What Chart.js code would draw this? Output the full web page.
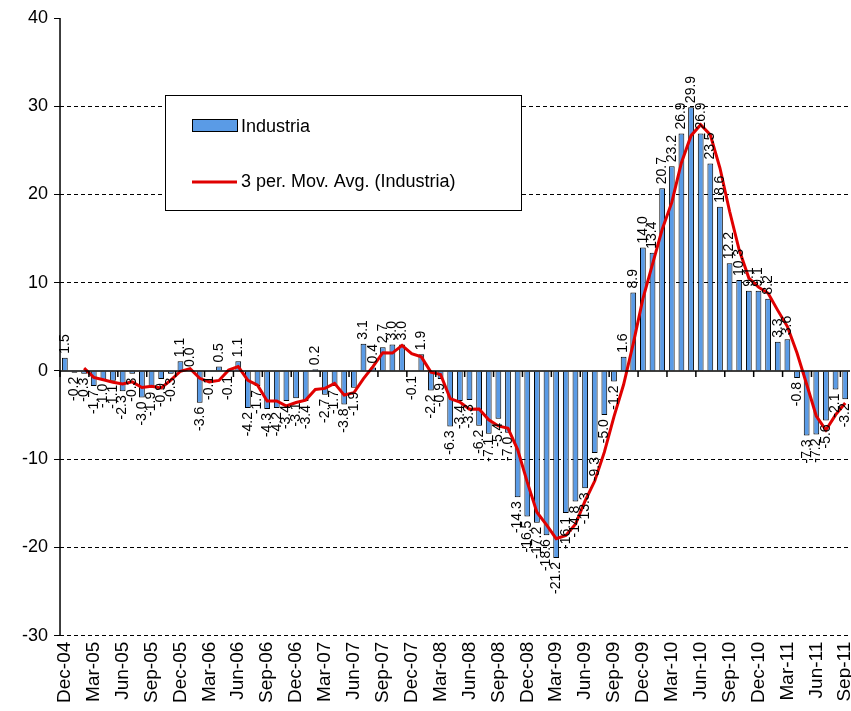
<!DOCTYPE html>
<html>
<head>
<meta charset="utf-8">
<script src="https://cdn.jsdelivr.net/npm/chart.js@4/dist/chart.umd.min.js"></script>
<style>
  body { margin: 0; overflow: hidden; background: #fff; }
  #wrap { width: 874px; height: 711px; }
</style>
</head>
<body>
<div id="wrap"><canvas id="myChart"></canvas></div>
<script>
const months = ["Jan","Feb","Mar","Apr","May","Jun","Jul","Aug","Sep","Oct","Nov","Dec"];

// Dec-04 .. Sep-11
const industria = [
  1.5, -0.2, -0.3, -1.7, -1.0, -1.1, -2.3, -0.3, -3.0, -1.9, -0.9, -0.3,
  1.1, 0.0, -3.6, -0.1, 0.5, -0.1, 1.1, -4.2, -1.7, -4.3, -4.2, -3.4,
  -3.1, -3.4, 0.2, -2.7, -1.7, -3.8, -1.9, 3.1, 0.4, 2.7, 3.0, 3.0,
  -0.1, 1.9, -2.2, -0.9, -6.3, -3.4, -3.3, -6.2, -7.1, -5.4, -7.0, -14.3,
  -16.5, -17.2, -18.6, -21.2, -16.1, -14.8, -13.3, -9.3, -5.0, -1.2, 1.6, 8.9,
  14.0, 13.4, 20.7, 23.2, 26.9, 29.9, 26.9, 23.5, 18.6, 12.2, 10.3, 9.1,
  9.1, 8.2, 3.3, 3.6, -0.8, -7.3, -7.2, -5.6, -2.1, -3.2
];

const labels = industria.map((v, i) => {
  const m = (11 + i) % 12;
  const y = 4 + Math.floor((11 + i) / 12);
  return months[m] + "-" + String(y).padStart(2, "0");
});

// 3 period moving average
const movAvg = industria.map((v, i) =>
  i < 2 ? null : +((industria[i] + industria[i - 1] + industria[i - 2]) / 3).toFixed(2)
);

const extras = {
  id: "extras",
  afterDatasetsDraw(chart) {
    const ctx = chart.ctx;
    const x = chart.scales.x;
    const y = chart.scales.y;
    const area = chart.chartArea;
    const y0 = y.getPixelForValue(0);
    const step = x.getPixelForValue(1) - x.getPixelForValue(0);
    ctx.save();
    ctx.strokeStyle = "#000";
    ctx.lineWidth = 1.5;
    // left axis
    ctx.beginPath();
    ctx.moveTo(area.left, area.top);
    ctx.lineTo(area.left, area.bottom);
    ctx.stroke();
    // zero axis with ticks
    ctx.beginPath();
    ctx.moveTo(area.left, y0);
    ctx.lineTo(area.right, y0);
    ctx.stroke();
    for (let i = 0; i <= industria.length; i += 3) {
      const px = x.getPixelForValue(i) - step / 2;
      ctx.beginPath();
      ctx.moveTo(px, y0);
      ctx.lineTo(px, y0 + 6);
      ctx.stroke();
    }
    // value labels
    ctx.fillStyle = "#000";
    ctx.font = "14px Arial, 'Liberation Sans'";
    ctx.textBaseline = "middle";
    industria.forEach((v, i) => {
      const px = x.getPixelForValue(i);
      const py = y.getPixelForValue(v);
      ctx.save();
      ctx.translate(px, v >= 0 ? py - 4 : py + 4);
      ctx.rotate(-Math.PI / 2);
      ctx.textAlign = v >= 0 ? "left" : "right";
      ctx.fillText(v.toFixed(1), 0, 0);
      ctx.restore();
    });
    // legend box
    ctx.fillStyle = "#fff";
    ctx.fillRect(165, 95, 356, 115);
    ctx.strokeStyle = "#000";
    ctx.lineWidth = 1;
    ctx.strokeRect(165.5, 95.5, 356, 115);
    ctx.fillStyle = "#5a9be6";
    ctx.fillRect(192, 119, 45, 12);
    ctx.strokeRect(192.5, 119.5, 45, 12);
    ctx.strokeStyle = "#e00000";
    ctx.lineWidth = 3;
    ctx.beginPath();
    ctx.moveTo(192, 182);
    ctx.lineTo(237, 182);
    ctx.stroke();
    ctx.fillStyle = "#000";
    ctx.font = "18px Arial, 'Liberation Sans'";
    ctx.textAlign = "left";
    ctx.fillText("Industria", 241, 127);
    ctx.fillText("3 per. Mov. Avg. (Industria)", 241, 182);
    ctx.restore();
  }
};

const config = {
  data: {
    labels: labels,
    datasets: [
      {
        type: "line",
        label: "3 per. Mov. Avg. (Industria)",
        data: movAvg,
        borderColor: "#e00000",
        borderWidth: 3,
        pointRadius: 0,
        tension: 0,
        order: 0,
      },
      {
        type: "bar",
        label: "Industria",
        data: industria,
        backgroundColor: "#5a9be6",
        borderColor: "#000",
        borderWidth: 1,
        barPercentage: 0.6,
        categoryPercentage: 1,
        order: 1,
      },
    ],
  },
  options: {
    responsive: true,
    maintainAspectRatio: false,
    animation: false,
    layout: { padding: { top: 18, right: 0, left: 16, bottom: 2 } },
    plugins: {
      legend: { display: false },
      tooltip: { enabled: false },
    },
    scales: {
      x: {
        offset: true,
        grid: { display: false, drawTicks: false },
        border: { display: false },
        ticks: {
          autoSkip: false,
          minRotation: 90,
          maxRotation: 90,
          color: "#000",
          padding: 6,
          font: { size: 19, family: "Arial" },
          callback: (v, i) => (i % 3 === 0 ? labels[i] : ""),
        },
      },
      y: {
        min: -30,
        max: 40,
        ticks: {
          stepSize: 10,
          color: "#000",
          padding: 6,
          font: { size: 18, family: "Arial" },
        },
        border: { display: false, dash: [4, 3] },
        grid: {
          drawTicks: true,
          tickLength: 6,
          tickColor: "#000",
          color: (c) => (c.tick.value === 40 || c.tick.value === 0 ? "rgba(0,0,0,0)" : "#000"),
          lineWidth: 1,
        },
      },
    },
  },
  plugins: [extras],
};

const myChart = new Chart(document.getElementById("myChart").getContext("2d"), config);
</script>
</body>
</html>
